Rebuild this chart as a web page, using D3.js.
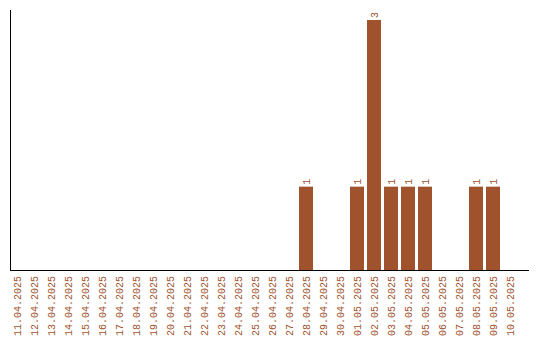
<!DOCTYPE html>
<html>
<head>
<meta charset="utf-8">
<script src="https://cdn.jsdelivr.net/npm/d3@7"></script>
<style>
  body { margin: 0; background: #fff; }
  text { font-family: "Liberation Mono", monospace; font-size: 10px; fill: #a0522d; }
</style>
</head>
<body>
<div id="chart"></div>
<script>
// Données
const dates = ['11.04.2025','12.04.2025','13.04.2025','14.04.2025','15.04.2025','16.04.2025',
  '17.04.2025','18.04.2025','19.04.2025','20.04.2025','21.04.2025','22.04.2025','23.04.2025',
  '24.04.2025','25.04.2025','26.04.2025','27.04.2025','28.04.2025','29.04.2025','30.04.2025',
  '01.05.2025','02.05.2025','03.05.2025','04.05.2025','05.05.2025','06.05.2025','07.05.2025',
  '08.05.2025','09.05.2025','10.05.2025'];
const counts = [0,0,0,0,0,0,0,0,0,0,0,0,0,0,0,0,0,1,0,0,1,3,1,1,1,0,0,1,1,0];

const width = 540, height = 340;
const svg = d3.select('#chart').append('svg')
    .attr('width', width)
    .attr('height', height);

const x = d3.scaleBand()
    .domain(dates)
    .range([10, 517])
    .paddingInner(3 / 17)
    .paddingOuter(0);

const y = d3.scaleLinear()
    .domain([0, 3.12])
    .range([270, 10]);

// Barres
svg.append('g')
    .selectAll('rect')
    .data(dates)
    .enter().append('rect')
    .attr('x', d => x(d))
    .attr('width', x.bandwidth())
    .attr('y', (d, i) => y(counts[i]))
    .attr('height', (d, i) => y(0) - y(counts[i]))
    .attr('fill', '#a0522d');

// Valeurs au-dessus des barres
svg.append('g')
    .selectAll('text')
    .data(dates.filter((d, i) => counts[i] > 0))
    .enter().append('text')
    .attr('transform', d => `translate(${x(d) + x.bandwidth() / 2 + 3.5},${y(counts[dates.indexOf(d)]) - 2}) rotate(-90)`)
    .attr('text-anchor', 'start')
    .text(d => counts[dates.indexOf(d)]);

// Axes
svg.append('line')
    .attr('x1', 10.5).attr('x2', 10.5)
    .attr('y1', 10).attr('y2', 271)
    .attr('stroke', '#000');
svg.append('line')
    .attr('x1', 10).attr('x2', 529)
    .attr('y1', 270.5).attr('y2', 270.5)
    .attr('stroke', '#000');

// Étiquettes des dates
svg.append('g')
    .selectAll('text')
    .data(dates)
    .enter().append('text')
    .attr('transform', d => `translate(${x(d) + x.bandwidth() / 2 + 3.5},276) rotate(-90)`)
    .attr('text-anchor', 'end')
    .text(d => d);
</script>
</body>
</html>
